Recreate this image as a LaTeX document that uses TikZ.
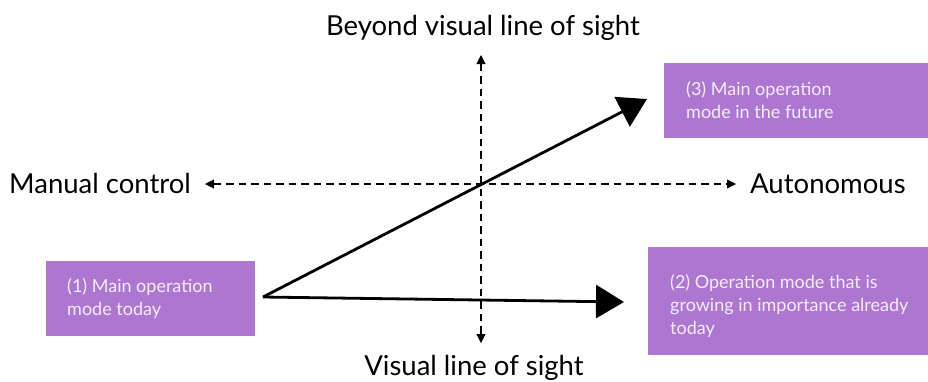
\documentclass[tikz,border=0pt]{standalone}
\usepackage{fontspec}
\setmainfont{Lato}
\usetikzlibrary{arrows.meta}
\definecolor{boxpurple}{HTML}{AD76D1}
\definecolor{boxtext}{HTML}{F4ECFA}
\begin{document}
\begin{tikzpicture}[x=1pt,y=-1pt,
  axislabel/.style={font=\fontsize{27.5}{32}\selectfont, text=black, inner sep=0pt, anchor=base},
  modebox/.style={fill=boxpurple, draw=none, inner sep=0pt, anchor=north west},
  modetext/.style={text=boxtext, font=\fontsize{18}{23}\selectfont, inner sep=0pt, anchor=base west},
  axis/.style={dash pattern=on 7.5pt off 5pt, line width=1.1pt, {Triangle[length=9pt,width=9pt]}-{Triangle[length=9pt,width=9pt]}},
  modearrow/.style={line width=2.8pt, -{Triangle[length=28pt,width=33pt]}}]
\useasboundingbox (0,0) rectangle (928,381);
% boxes
\node[modebox, minimum width=209pt, minimum height=75pt] (b1) at (46,261) {};
\node[modebox, minimum width=264pt, minimum height=75pt] (b3) at (664,63) {};
\node[modebox, minimum width=280pt, minimum height=108pt] (b2) at (648,247) {};
\node[modetext] (t1) at (67,292) {\begin{tabular}[t]{@{}l@{}}(1) Main operation\\mode today\end{tabular}};
\node[modetext] (t3) at (686,95) {\begin{tabular}[t]{@{}l@{}}(3) Main operation\\mode in the future\end{tabular}};
\node[modetext] (t2) at (670,288) {\begin{tabular}[t]{@{}l@{}}(2) Operation mode that is\\growing in importance already\\today\end{tabular}};
% axes
\coordinate (top) at (481,55);
\coordinate (bot) at (481,343);
\coordinate (lft) at (205,184);
\coordinate (rgt) at (736,184);
\draw[axis] (top) -- (bot);
\draw[axis] (lft) -- (rgt);
\node[axislabel] (ltop) at (483,35) {Beyond visual line of sight};
\node[axislabel] (lbot) at (474,375) {Visual line of sight};
\node[axislabel, anchor=base west] (lman) at (9,193) {Manual control};
\node[axislabel, anchor=base west] (laut) at (750,193) {Autonomous};
% mode arrows
\coordinate (o) at (263,297);
\coordinate (h3) at (647,99);
\coordinate (h2) at (624,302);
\draw[modearrow] (o) -- (h3);
\draw[modearrow] (o) -- (h2);
\end{tikzpicture}
\end{document}
